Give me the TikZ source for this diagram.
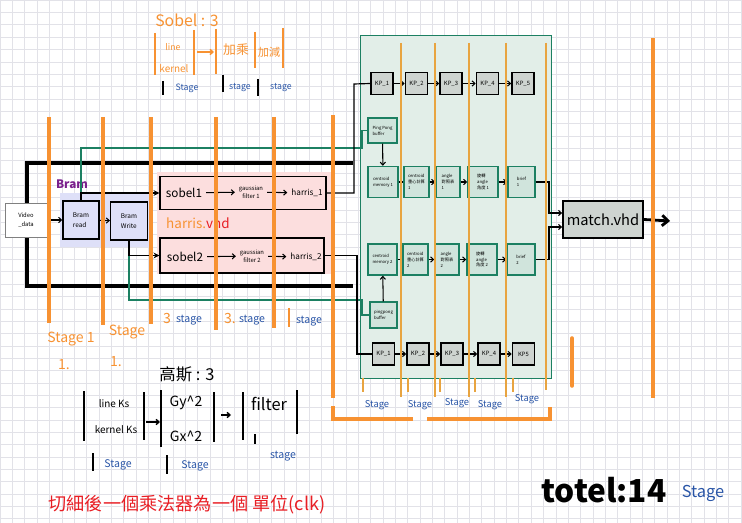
\documentclass[tikz,border=0pt]{standalone}
\usepackage{fontspec}
\setmainfont{Noto Sans CJK TC}
\usetikzlibrary{arrows.meta}

\definecolor{orng}{RGB}{247,146,50}
\definecolor{orngl}{RGB}{232,164,64}
\definecolor{tealdk}{RGB}{28,128,98}
\definecolor{gzone}{RGB}{226,238,232}
\definecolor{gboxfill}{RGB}{208,228,220}
\definecolor{pinkzone}{RGB}{252,222,222}
\definecolor{lavzone}{RGB}{222,224,248}
\definecolor{kpgray}{RGB}{206,212,208}
\definecolor{stblue}{RGB}{40,84,166}
\definecolor{bramprp}{RGB}{122,32,140}
\definecolor{redtxt}{RGB}{232,30,36}
\definecolor{gridc}{RGB}{226,226,232}

\newcommand\sz[2]{\fontsize{#1}{#2}\selectfont}

\tikzset{
  gridline/.style={draw=gridc, line width=0.4pt},
  stageline/.style={draw=orng, line width=3pt},
  stagethin/.style={draw=orngl, line width=1.6pt},
  notebar/.style={draw=orng, line width=1.3pt},
  inkbar/.style={draw=black, line width=1.2pt},
  link/.style={->, line width=0.9pt},
  gline/.style={draw=tealdk, line width=1pt},
  kpbox/.style={draw=black, line width=1.3pt, fill=kpgray, minimum width=6.6mm,
    minimum height=6.6mm, inner sep=0pt, font=\sz{5}{6}},
  gbox/.style={draw=tealdk, line width=1.2pt, fill=gboxfill, minimum height=9.3mm,
    inner sep=0.6pt, align=left, font=\sz{3.6}{5}},
  brambox/.style={draw=black, line width=1.2pt, fill=lavzone, minimum width=11mm,
    minimum height=11.4mm, align=left, font=\sz{5.5}{9}},
  harrisbox/.style={draw=black, line width=1pt, minimum height=9.8mm},
  bluetxt/.style={text=stblue, font=\sz{8}{9}},
  orngtxt/.style={text=orng, font=\sz{10}{11}},
}

\begin{document}
\begin{tikzpicture}[x=0.3mm,y=-0.3mm,>={Straight Barb[length=2.5pt,width=4.5pt]}]
\useasboundingbox (0,0) rectangle (742,523);
% grid paper
\foreach \i in {0,...,60} \draw[gridline] ({\i*12.35},0) -- ({\i*12.35},523);
\foreach \j in {0,...,42} \draw[gridline] (0,{\j*12.35}) -- (742,{\j*12.35});

% zones
\fill[gzone] (360,35) rectangle (551,378);
\draw[tealdk, line width=0.8pt] (360,35) rectangle (551,378);
\fill[pinkzone] (157,172) rectangle (333,274);
\fill[lavzone] (60,193) rectangle (150,247);
\draw[line width=2.6pt] (353,163) -- (27,163) -- (27,286) -- (353,286);

% left part
\node[draw=gray, line width=0.6pt, fill=white, minimum width=12.6mm, minimum height=10.2mm,
  align=left, font=\sz{5}{8}] (video) at (26,220) {Video\\\_data};
\node[brambox, minimum width=10.8mm] (bramread) at (81,220) {Bram\\read};
\node[brambox] (bramwrite) at (129,221) {Bram\\Write};
\node[text=bramprp, font=\bfseries\sz{10}{11}] (bramlbl) at (72,184) {Bram};

\node[harrisbox, minimum width=49.8mm] (sobelboxa) at (243,193) {};
\node[harrisbox, minimum width=49.2mm, minimum height=10.5mm] (sobelboxb) at (242,255.5) {};
\node[font=\sz{10}{11}] (sobela) at (184,193) {sobel1};
\node[font=\sz{5}{7}, align=center] (gaussa) at (251,192) {gaussian\\filter 1};
\node[font=\sz{7}{8}] (harrisa) at (307,193) {harris\_1};
\node[font=\sz{10}{11}] (sobelb) at (185,257) {sobel2};
\node[font=\sz{5}{7}, align=center] (gaussb) at (252,256) {gaussian\\filter 2};
\node[font=\sz{7}{8}] (harrisb) at (306,257) {harris\_2};
\node[font=\sz{11.5}{12}] (harrislbl) at (198,223) {\textcolor{orng}{harris.}\textcolor{redtxt}{vhd}};

% keypoint rows
\node[kpbox] (kpa1) at (382,83.5) {KP\_1};
\node[kpbox] (kpa2) at (416.5,83.5) {KP\_2};
\node[kpbox] (kpa3) at (451,83.5) {KP\_3};
\node[kpbox] (kpa4) at (487.5,83.5) {KP\_4};
\node[kpbox] (kpa5) at (523,83.5) {KP\_5};
\node[kpbox] (kpb1) at (383.5,354) {KP\_1};
\node[kpbox] (kpb2) at (418,354) {KP\_2};
\node[kpbox] (kpb3) at (452,354) {KP\_3};
\node[kpbox] (kpb4) at (489,354) {KP\_4};
\node[kpbox] (kpb5) at (523.5,354) {KP5};

% descriptor rows
\node[gbox, minimum width=8.7mm, minimum height=7.5mm] (pinga) at (382.5,130.5) {Ping Pong\\buffer};
\node[gbox, minimum width=9mm] (cmema) at (383,182) {centroid\\memory 1};
\node[gbox, minimum width=7.5mm] (ccalca) at (416.5,182) {centroid\\重心計算\\1};
\node[gbox, minimum width=7.2mm] (angla) at (448,182) {angle\\對照表\\1};
\node[gbox, minimum width=9mm] (rota) at (483,182) {旋轉\\angle\\角度 1};
\node[gbox, minimum width=8.1mm] (briefa) at (521.5,182) {brief\\1};
\node[gbox, minimum width=8.7mm] (cmemb) at (382.5,259.5) {centroid\\memory 2};
\node[gbox, minimum width=7.5mm] (ccalcb) at (415.5,259.5) {centroid\\重心計算\\2};
\node[gbox, minimum width=7.2mm] (anglb) at (447,259.5) {angle\\對照表\\2};
\node[gbox, minimum width=9mm] (rotb) at (482,259.5) {旋轉\\angle\\角度 2};
\node[gbox, minimum width=8.4mm] (briefb) at (521,259.5) {brief\\2};
\node[gbox, minimum width=8.1mm, minimum height=7.8mm] (pingb) at (383.5,315) {pingpong\\buffer};

\node[draw=black, line width=1.3pt, fill=kpgray, minimum width=24mm, minimum height=11.1mm,
  font=\sz{12.5}{13}] (match) at (603,219.5) {match.vhd};

% connectors
\coordinate (turna) at (354,84);
\coordinate (turnb) at (357,354);
\coordinate (gturna) at (362,148);
\coordinate (gturnb) at (362,300);
\coordinate (mjoina) at (549,213);
\coordinate (mjoinb) at (549,227);
\coordinate (mout) at (670,221);

\draw[link] (video) -- (bramread);
\draw[link] (bramread) -- (bramwrite);
\draw[gline] (bramread.north) |- (gturna) |- (pinga.west);
\draw[gline] (bramwrite.south) |- (gturnb) |- (pingb.west);
\draw[line width=1pt, -{Stealth[length=5pt,width=5pt]}] (bramread.north) |- (sobelboxa.west);
\draw[line width=1pt, -{Stealth[length=5pt,width=5pt]}] (bramwrite.south) |- (sobelboxb.west);
\draw[link] (sobela) -- (gaussa);
\draw[link] (gaussa) -- (harrisa);
\draw[link] (sobelb) -- (gaussb);
\draw[link] (gaussb) -- (harrisb);
\draw[line width=1pt] (sobelboxa.east) -| (turna) -- (kpa1.west);
\draw[line width=1pt] (sobelboxb.east) -| (turnb) -- (kpb1.west);

\draw[link] (kpa1) -- (kpa2);
\draw[link] (kpa2) -- (kpa3);
\draw[link] (kpa3) -- (kpa4);
\draw[link] (kpa4) -- (kpa5);
\draw[link] (kpb1) -- (kpb2);
\draw[link] (kpb2) -- (kpb3);
\draw[link] (kpb3) -- (kpb4);
\draw[link] (kpb4) -- (kpb5);

\draw[link] (pinga) -- (cmema);
\draw[line width=0.9pt] (cmema) -- (ccalca);
\draw[link] (ccalca) -- (angla);
\draw[link] (angla) -- (rota);
\draw[link] (rota) -- (briefa);
\draw[link] (pingb) -- (cmemb);
\draw[line width=0.9pt] (cmemb) -- (ccalcb);
\draw[link] (ccalcb) -- (anglb);
\draw[link] (anglb) -- (rotb);
\draw[link] (rotb) -- (briefb);

\draw[link] (briefa.east) -| (mjoina) -- (match.west |- mjoina);
\draw[link] (briefb.east) -| (mjoinb) -- (match.west |- mjoinb);
\draw[line width=2.4pt, -{Straight Barb[length=5pt,width=9pt]}] (match.east) -- (mout);

% stage cuts
\draw[stageline] (49,117) -- (49,323);
\draw[stageline] (103,117) -- (103,325);
\draw[stageline] (151,117) -- (151,324);
\draw[stageline] (216,117) -- (216,330);
\draw[stageline] (274,117) -- (274,328);
\draw[stageline] (333,115) -- (333,398);
\draw[stageline] (333,406) -- (333,419) -- (413,419);
\draw[stageline] (427,419) -- (550,419) -- (550,407);
\draw[stageline] (653,38) -- (653,398);
\draw[stageline, line cap=round] (572,338) -- (572,386);
\foreach \x in {401,435,469,506} \draw[stagethin] (\x,43) -- (\x,397);
\draw[stagethin] (546,43) -- (546,390);
\foreach \x in {363,408,440,475,513} \draw[stagethin, line width=1pt] (\x,378) -- (\x,392);

% stage labels
\node[orngtxt, font=\sz{12}{13}] (cnta) at (167,318) {3};
\node[bluetxt, font=\sz{9}{10}] (stga) at (189,320) {stage};
\node[orngtxt, font=\sz{12}{13}] (cntb) at (230,318) {3.};
\node[bluetxt, font=\sz{9}{10}] (stgb) at (252,320) {stage};
\draw[notebar] (289,308) -- (289,327);
\node[bluetxt, font=\sz{9}{10}] (stgc) at (309,321) {stage};
\node[orngtxt, font=\sz{12}{13}] (stgd) at (71,339) {Stage 1};
\node[orngtxt, font=\sz{12}{13}] (stge) at (127,332) {Stage};
\node[orngtxt, font=\sz{12}{13}] (cntd) at (64,365) {1.};
\node[orngtxt, font=\sz{12}{13}] (cnte) at (116,362) {1.};
\node[bluetxt] (stgf) at (377,405) {Stage};
\node[bluetxt] (stgg) at (420,405) {Stage};
\node[bluetxt] (stgh) at (457,403) {Stage};
\node[bluetxt] (stgi) at (490,405) {Stage};
\node[bluetxt] (stgj) at (527,399) {Stage};

% sobel note
\node[orngtxt, font=\sz{13.5}{14}] (sobnote) at (187,20) {Sobel : 3};
\draw[notebar] (155,33) -- (155,75);
\node[orngtxt, font=\sz{7.5}{8}] (sobline) at (173,47) {line};
\node[orngtxt, font=\sz{8.5}{9}] (sobkern) at (174,69) {kernel};
\draw[notebar] (194,30) -- (194,75);
\draw[notebar, ->] (197,52) -- (214,52);
\draw[notebar] (216,29) -- (216,74);
\node[orngtxt, font=\sz{11}{12}] (sobmul) at (236,50) {加乘};
\draw[notebar] (255,32) -- (255,68);
\node[orngtxt, font=\sz{9.5}{10}] (sobadd) at (269,52) {加減};
\draw[notebar] (283,28) -- (283,68);
\draw[inkbar] (163,81) -- (163,95);
\node[bluetxt, font=\sz{7.5}{8}] (sobstga) at (187,88) {Stage};
\draw[inkbar] (223,75) -- (223,92);
\node[bluetxt, font=\sz{7.5}{8}] (sobstgb) at (240,88) {stage};
\draw[inkbar] (258,79) -- (258,96);
\node[bluetxt, font=\sz{7.5}{8}] (sobstgc) at (281,88) {stage};

% gauss note
\node[font=\sz{14}{15}] (gaunote) at (187,374) {高斯 : 3};
\draw[inkbar] (84,391) -- (84,441);
\node[font=\sz{8.5}{9}] (gauline) at (114,404) {line Ks};
\node[font=\sz{8.5}{9}] (gaukern) at (116,430) {kernel Ks};
\draw[inkbar] (144,392) -- (144,440);
\draw[inkbar, ->] (146,422) -- (160,422);
\draw[inkbar] (161,390) -- (161,447);
\node[font=\sz{12}{13}] (gaugy) at (186,403) {Gy\^{}2};
\node[font=\sz{12}{13}] (gaugx) at (186,436) {Gx\^{}2};
\draw[inkbar] (214,392) -- (214,442);
\draw[inkbar, ->] (221,415) -- (231,415);
\draw[inkbar] (243,392) -- (243,440);
\node[font=\sz{14}{15}] (gaufilt) at (269,404) {filter};
\draw[inkbar] (297,390) -- (297,434);
\draw[inkbar] (93,453) -- (93,471);
\node[bluetxt, font=\sz{9}{10}] (gaustga) at (118,465) {Stage};
\draw[inkbar] (167,455) -- (167,474);
\node[bluetxt, font=\sz{9}{10}] (gaustgb) at (195,466) {Stage};
\draw[inkbar] (255,434) -- (255,444);
\node[bluetxt, font=\sz{9}{10}] (gaustgc) at (283,456) {stage};

% footer
\node[text=redtxt, font=\sz{15.5}{16}] (footnote) at (187,505) {切細後一個乘法器為一個 單位(clk)};
\node[font=\bfseries\sz{27}{28}] (total) at (604,490) {totel:14};
\node[bluetxt, font=\sz{14}{15}] (totstg) at (703,493) {Stage};
\end{tikzpicture}
\end{document}
